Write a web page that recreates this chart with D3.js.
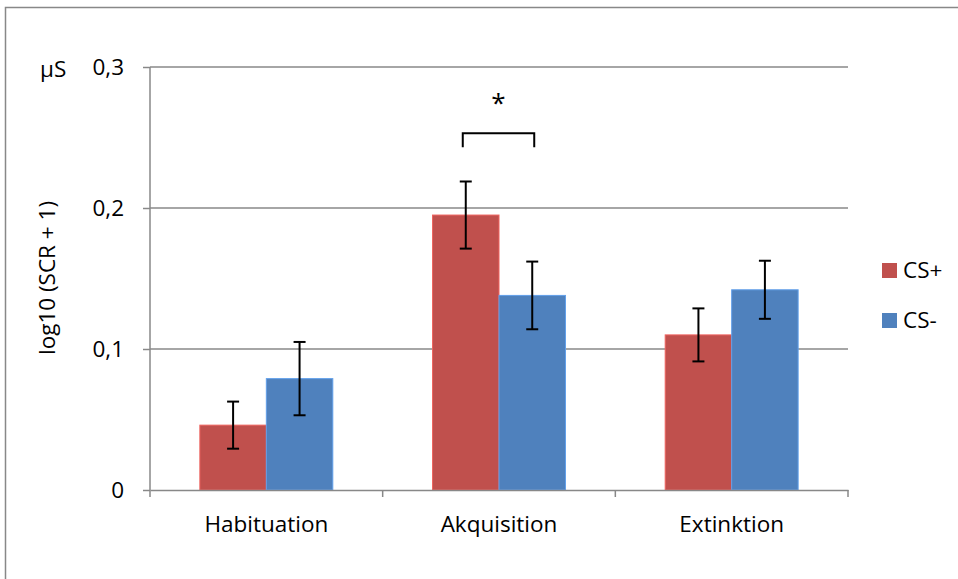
<!DOCTYPE html>
<html>
<head>
<meta charset="utf-8">
<script src="https://cdn.jsdelivr.net/npm/d3@7"></script>
<style>
  body { margin: 0; background: #fff; }
  svg { font-family: "Open Sans", Lato, sans-serif; }
</style>
</head>
<body>
<svg width="958" height="579"></svg>
<script>
var phases = ["Habituation", "Akquisition", "Extinktion"],
    groups = ["CS+", "CS-"],
    csPlus = [0.046, 0.195, 0.110],
    csPlusErr = [0.0167, 0.0238, 0.0188],
    csMinus = [0.079, 0.138, 0.142],
    csMinusErr = [0.026, 0.024, 0.0206],
    yTicks = [0, 0.1, 0.2, 0.3],
    colors = ["#C0504D", "#4F81BD"];

var svg = d3.select("svg"),
    margin = {top: 67, right: 110, bottom: 89, left: 150},
    width = 848 - margin.left,
    height = 490 - margin.top,
    fs = 22.5;

// outer frame (right/bottom edges fall outside the picture)
svg.append("rect")
    .attr("x", 5.5).attr("y", 7.5)
    .attr("width", 1000).attr("height", 1000)
    .attr("fill", "none").attr("stroke", "#888").attr("stroke-width", 1.5);

var x = d3.scaleBand().domain(phases).range([0, width]),
    x1 = d3.scaleBand().domain(groups).range([0, x.bandwidth()]).paddingOuter(0.75).paddingInner(0),
    y = d3.scaleLinear().domain([0, 0.3]).range([height, 0]);

var g = svg.append("g")
    .attr("transform", "translate(" + margin.left + "," + margin.top + ")");

// gridlines
g.selectAll(".grid")
  .data(yTicks.slice(1))
  .enter().append("line")
    .attr("x1", 0).attr("x2", width)
    .attr("y1", function(d) { return y(d); })
    .attr("y2", function(d) { return y(d); })
    .attr("stroke", "#888").attr("stroke-width", 1.5);

var data = [];
phases.forEach(function(p, i) {
  data.push({phase: p, group: "CS+", v: csPlus[i], e: csPlusErr[i], c: colors[0]});
  data.push({phase: p, group: "CS-", v: csMinus[i], e: csMinusErr[i], c: colors[1]});
});

function cx(d) { return x(d.phase) + x1(d.group) + x1.bandwidth() / 2; }

g.selectAll(".bar")
  .data(data)
  .enter().append("rect")
    .attr("class", "bar")
    .attr("x", function(d) { return x(d.phase) + x1(d.group); })
    .attr("y", function(d) { return y(d.v); })
    .attr("width", x1.bandwidth())
    .attr("height", function(d) { return height - y(d.v); })
    .attr("fill", function(d) { return d.c; })
    .attr("stroke", function(d) { return d3.color(d.c).brighter(0.6); })
    .attr("stroke-width", 1);

// axes
var xAxis = g.append("g")
    .attr("transform", "translate(0," + height + ")")
    .call(d3.axisBottom(x).tickSize(0).tickPadding(26));
xAxis.select(".domain").attr("stroke", "#888").attr("stroke-width", 1.5);
xAxis.selectAll("text").attr("font-size", fs).attr("fill", "#000")
    .attr("font-family", "'Open Sans', sans-serif");
xAxis.selectAll(".sep")
  .data([0, 1, 2, 3])
  .enter().append("line")
    .attr("x1", function(i) { return i * x.step(); })
    .attr("x2", function(i) { return i * x.step(); })
    .attr("y1", 0).attr("y2", 7)
    .attr("stroke", "#888").attr("stroke-width", 1.5);

var yAxis = g.append("g")
    .call(d3.axisLeft(y).tickValues(yTicks).tickSize(7).tickPadding(19)
      .tickFormat(function(d) { return d === 0 ? "0" : String(d).replace(".", ","); }));
yAxis.select(".domain").attr("stroke", "#888").attr("stroke-width", 1.5).attr("d", "M0," + height + "V0");
yAxis.selectAll(".tick line").attr("stroke", "#888").attr("stroke-width", 1.5);
yAxis.selectAll("text").attr("font-size", fs).attr("fill", "#000")
    .attr("font-family", "'Open Sans', sans-serif");

// error bars
var eb = g.selectAll(".err")
  .data(data)
  .enter().append("g")
    .attr("stroke", "#000").attr("stroke-width", 2);
eb.append("line")
    .attr("x1", cx).attr("x2", cx)
    .attr("y1", function(d) { return y(d.v + d.e); })
    .attr("y2", function(d) { return y(d.v - d.e); });
eb.append("line")
    .attr("x1", function(d) { return cx(d) - 6; })
    .attr("x2", function(d) { return cx(d) + 6; })
    .attr("y1", function(d) { return y(d.v + d.e); })
    .attr("y2", function(d) { return y(d.v + d.e); });
eb.append("line")
    .attr("x1", function(d) { return cx(d) - 6; })
    .attr("x2", function(d) { return cx(d) + 6; })
    .attr("y1", function(d) { return y(d.v - d.e); })
    .attr("y2", function(d) { return y(d.v - d.e); });

// significance bracket over Akquisition
var bx1 = x("Akquisition") + x1("CS+") + x1.bandwidth() / 2 - 3,
    bx2 = x("Akquisition") + x1("CS-") + x1.bandwidth() / 2 + 2;
g.append("path")
    .attr("d", "M" + bx1 + "," + y(0.243) + "V" + y(0.253) + "H" + bx2 + "V" + y(0.243))
    .attr("fill", "none").attr("stroke", "#000").attr("stroke-width", 2);
g.append("text")
    .attr("x", (bx1 + bx2) / 2)
    .attr("y", y(0.268))
    .attr("text-anchor", "middle")
    .attr("font-size", 26)
    .text("*");

// axis titles
svg.append("text")
    .attr("transform", "translate(55,278) rotate(-90)")
    .attr("text-anchor", "middle")
    .attr("font-size", fs)
    .text("log10 (SCR + 1)");
svg.append("text")
    .attr("x", 40).attr("y", 77)
    .attr("font-size", fs)
    .text("µS");

// legend
var legend = svg.append("g")
  .selectAll("g")
  .data(groups)
  .enter().append("g")
    .attr("transform", function(d, i) { return "translate(882," + (263 + i * 50) + ")"; });
legend.append("rect")
    .attr("width", 15).attr("height", 15)
    .attr("fill", function(d, i) { return colors[i]; });
legend.append("text")
    .attr("x", 21).attr("y", 15)
    .attr("font-size", fs)
    .text(function(d) { return d; });
</script>
</body>
</html>
